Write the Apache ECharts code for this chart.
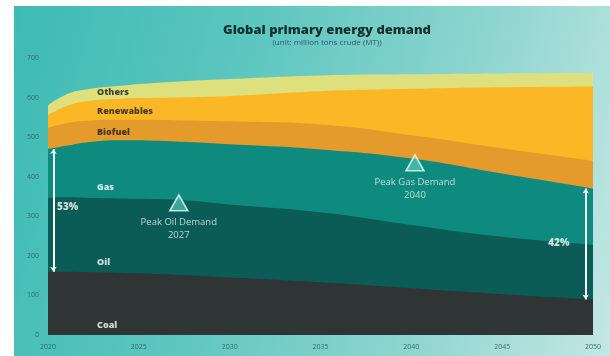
<!DOCTYPE html>
<html>
<head>
<meta charset="utf-8">
<script src="https://cdn.jsdelivr.net/npm/echarts@6/dist/echarts.min.js"></script>
<style>
  html, body { margin: 0; padding: 0; background: #ffffff; }
  #wrap { position: relative; width: 610px; height: 356px; overflow: hidden; }
  #panel {
    position: absolute; left: 14px; top: 6px; right: 0; bottom: 0;
    background: linear-gradient(105deg, #3dbbb3 0%, #5cc6bf 35%, #8ed5cf 70%, #c4e7e4 100%);
  }
  #chart { position: absolute; left: 0; top: 0; width: 610px; height: 356px; }
</style>
</head>
<body>
<div id="wrap"><div id="panel"></div><div id="chart"></div></div>
<script>
// Demand by source, layered from the bottom (coal) to the top (others)
const years      = [2020, 2021, 2022, 2024, 2027, 2030, 2035, 2040, 2045, 2050];
const coal       = [160, 160, 159, 157, 152, 145, 133, 118, 103, 90];
const oil        = [187, 188, 188, 188, 190, 185, 177, 160, 145, 138];
const gas        = [123, 130, 139, 147, 147, 152, 159, 168, 160, 142];
const biofuel    = [53, 57, 55, 52, 54, 58, 63, 59, 64, 70];
const renewables = [33, 43, 49, 53, 57, 64, 84, 117, 154, 188];
const others     = [25, 30, 30, 33, 40, 43, 40, 37, 35, 34];

const xTicks = [2020, 2025, 2030, 2035, 2040, 2045, 2050];
const yTicks = [0, 100, 200, 300, 400, 500, 600, 700];

const peakNames = ['Peak Oil Demand', 'Peak Gas Demand'];
const peakYears = [2027, 2040];

const seriesNames  = ['Coal', 'Oil', 'Gas', 'Biofuel', 'Renewables', 'Others'];
const seriesData   = [coal, oil, gas, biofuel, renewables, others];
const seriesColors = ['#2f3434', '#0b5c56', '#0f8a7e', '#e59b2b', '#fbb725', '#dde07c'];

// where the in-chart text sits, in axis units
const nameSpots = {
  Others: [2022.7, 614], Renewables: [2022.7, 565], Biofuel: [2022.7, 512],
  Gas: [2022.7, 374], Oil: [2022.7, 184], Coal: [2022.7, 25]
};
const peakSpots = [334, 435];

// running totals: the top edge of each layer
const tops = seriesData.map((arr, k) =>
  years.map((_, i) => seriesData.slice(0, k + 1).reduce((s, a) => s + a[i], 0)));

const totalAt = i => tops[tops.length - 1][i];
const fossilAt = i => oil[i] + gas[i];
const last = years.length - 1;
const shareStart = Math.round(fossilAt(0) / totalAt(0) * 100) + '%';
const shareEnd = Math.round(fossilAt(last) / totalAt(last) * 100) + '%';

// each layer is filled from its top edge down to zero; upper layers are drawn first
const areaSeries = seriesNames.map((name, k) => ({
  name: name,
  type: 'line',
  smooth: 0.5,
  showSymbol: false,
  symbol: 'none',
  lineStyle: { width: 0 },
  areaStyle: { color: seriesColors[k], opacity: 1, origin: 'start' },
  data: years.map((y, i) => [y, tops[k][i]]),
  z: 2
})).reverse();

const darkNames = ['Others', 'Renewables', 'Biofuel'];
const nameLabels = seriesNames.map(n => ({
  value: nameSpots[n],
  label: {
    show: true, formatter: n, position: 'right', distance: 0,
    color: darkNames.includes(n) ? '#1d1d1d' : '#ffffff',
    fontFamily: 'Open Sans', fontWeight: 800, fontSize: 9
  }
}));

const shareLabels = [
  { value: [2020.5, 323], label: { show: true, formatter: shareStart, position: 'right', distance: 0 } },
  { value: [2048.7, 232], label: { show: true, formatter: shareEnd, position: 'left', distance: 0 } }
];

const chart = echarts.init(document.getElementById('chart'), null, { renderer: 'canvas' });
chart.setOption({
  backgroundColor: 'transparent',
  animation: false,
  title: {
    text: 'Global primary energy demand',
    subtext: '(unit: million tons crude (MT))',
    left: 322, top: 19, textAlign: 'center', itemGap: 2,
    textStyle: { fontFamily: 'Open Sans', fontWeight: 800, fontSize: 13, color: '#15302e' },
    subtextStyle: { fontFamily: 'Open Sans', fontSize: 8, color: '#2b5b66' }
  },
  grid: { left: 48, right: 17, top: 58, bottom: 21 },
  xAxis: {
    type: 'value', min: xTicks[0], max: xTicks[xTicks.length - 1], interval: 5,
    axisLine: { show: false }, axisTick: { show: false }, splitLine: { show: false },
    axisLabel: { formatter: v => String(v), color: '#2f6f6b', fontSize: 7, fontFamily: 'Open Sans', margin: 8 }
  },
  yAxis: {
    type: 'value', min: yTicks[0], max: yTicks[yTicks.length - 1], interval: 100,
    axisLine: { show: false }, axisTick: { show: false }, splitLine: { show: false },
    axisLabel: { color: '#2f6f6b', fontSize: 7, fontFamily: 'Open Sans', margin: 9 }
  },
  series: areaSeries.concat([
    {
      name: 'names', type: 'scatter', symbolSize: 0, silent: true, z: 5,
      data: nameLabels
    },
    {
      name: 'shares', type: 'scatter', symbolSize: 0, silent: true, z: 5,
      label: { color: '#ffffff', fontFamily: 'Open Sans', fontWeight: 800, fontSize: 10 },
      data: shareLabels,
      markLine: {
        silent: true, symbol: ['arrow', 'arrow'], symbolSize: [5, 5],
        lineStyle: { color: '#eef7f6', width: 2, type: 'solid' },
        label: { show: false },
        data: [
          [{ coord: [2020.3, tops[0][0]] }, { coord: [2020.3, tops[2][0]] }],
          [{ coord: [2049.6, tops[0][last]] }, { coord: [2049.6, tops[2][last]] }]
        ]
      }
    },
    {
      name: 'peaks', type: 'scatter', symbol: 'triangle', symbolSize: [18, 16], silent: true, z: 6,
      itemStyle: { color: 'rgba(95, 215, 200, 0.75)', borderColor: '#eafaf7', borderWidth: 1.6 },
      label: {
        show: true, position: 'bottom', distance: 4, color: '#dff3f0',
        fontFamily: 'Open Sans', fontSize: 9.5, lineHeight: 13, align: 'center',
        formatter: p => peakNames[p.dataIndex] + '\n' + peakYears[p.dataIndex]
      },
      data: peakYears.map((y, i) => [y + 0.2, peakSpots[i]])
    }
  ])
});
</script>
</body>
</html>
